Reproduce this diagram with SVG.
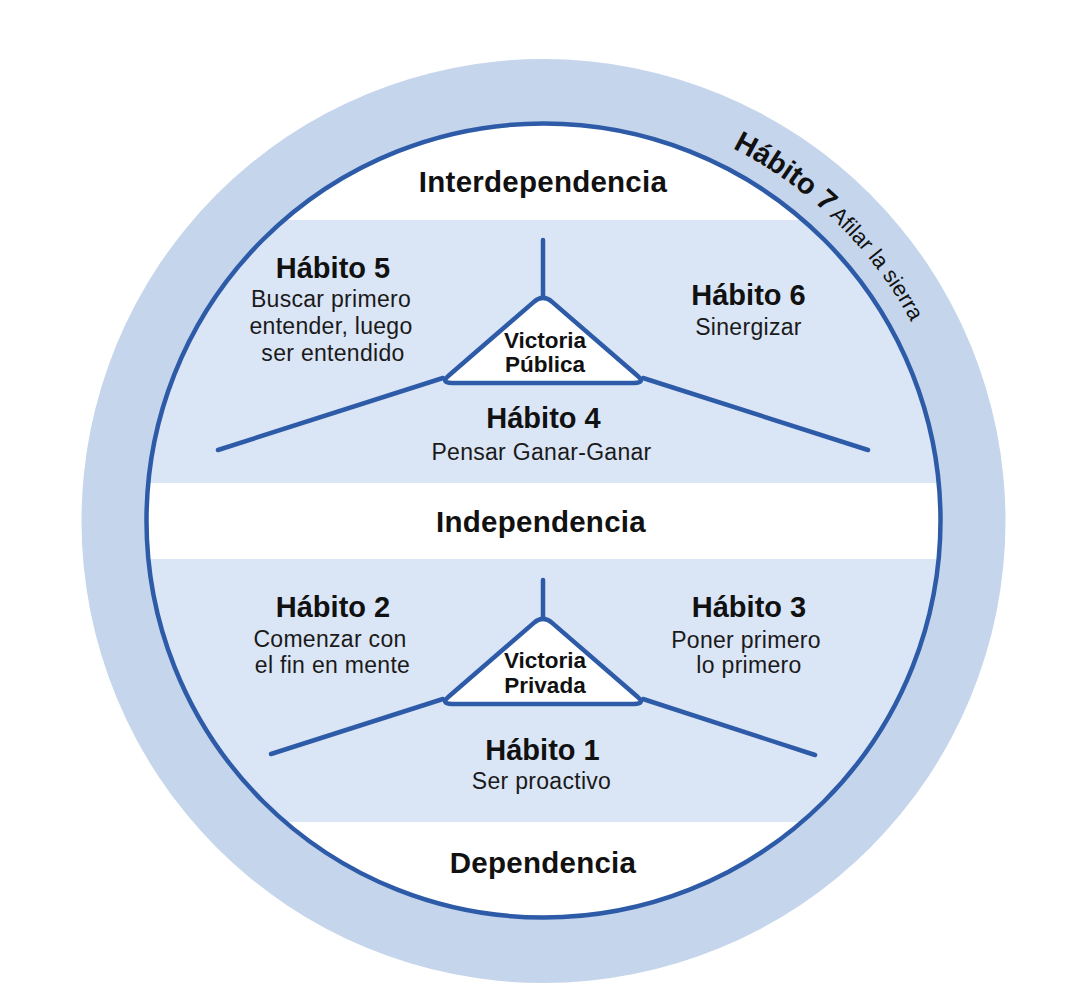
<svg xmlns="http://www.w3.org/2000/svg" width="1090" height="994" viewBox="0 0 1090 994">
<defs>
<clipPath id="inner"><circle cx="543.5" cy="520.5" r="396"/></clipPath>
<path id="tri" d="M533.9,301.9 Q543,294 552.1,301.9 L636.9,375.2 Q646,383 634,383 L452,383 Q440,383 449.1,375.2 Z"/>
<path id="arc" d="M543.5,103 A418,418 0 1 1 543.5,939 A418,418 0 1 1 543.5,103"/>
</defs>
<style>
.h{font-family:"Liberation Sans",Arial,sans-serif;font-weight:bold;fill:#111;text-anchor:middle}
.big{font-size:29.5px;letter-spacing:0.25px}
.hab{font-size:29px}
.vic{font-size:22.5px}
.t{font-family:"Liberation Sans",Arial,sans-serif;font-size:23px;letter-spacing:0.3px;fill:#1a1a1a;text-anchor:middle}
.ln{stroke:#2E5BA8;stroke-width:4.5;stroke-linecap:round;fill:none}
.tri{fill:#fff;stroke:#2E5BA8;stroke-width:4.5;stroke-linejoin:round}
</style>
<rect width="1090" height="994" fill="#fff"/>
<g id="ring">
<circle cx="543.5" cy="521" r="462" fill="#C4D5EC"/>
<circle cx="543.5" cy="520.5" r="397" fill="#fff"/>
</g>
<g id="bands" clip-path="url(#inner)">
<rect x="100" y="220" width="900" height="263" fill="#DAE5F6"/>
<rect x="100" y="559" width="900" height="263" fill="#DAE5F6"/>
</g>
<circle cx="543.5" cy="520.5" r="397" fill="none" stroke="#2E5BA8" stroke-width="4.5"/>
<g id="connectors">
<line class="ln" x1="543" y1="240" x2="543" y2="296"/>
<line class="ln" x1="443" y1="378" x2="218" y2="450"/>
<line class="ln" x1="643" y1="378" x2="868" y2="450"/>
<line class="ln" x1="543" y1="580" x2="543" y2="617"/>
<line class="ln" x1="443" y1="699" x2="271" y2="754"/>
<line class="ln" x1="643" y1="699" x2="815" y2="755"/>
</g>
<g id="habito7">
<text font-family="Liberation Sans,Arial,sans-serif" fill="#111"><textPath href="#arc" startOffset="196"><tspan font-weight="bold" font-size="29">Hábito 7</tspan><tspan font-size="22" dx="4">Afilar la sierra</tspan></textPath></text>
</g>
<g id="interdependencia"><text class="h big" x="543" y="192">Interdependencia</text></g>
<g id="independencia"><text class="h big" x="541" y="532">Independencia</text></g>
<g id="dependencia"><text class="h big" x="543" y="873">Dependencia</text></g>
<g id="victoria-publica">
<use href="#tri" class="tri"/>
<text class="h vic" x="545" y="348">Victoria</text>
<text class="h vic" x="545" y="372">Pública</text>
</g>
<g id="victoria-privada">
<use href="#tri" class="tri" transform="translate(0,321)"/>
<text class="h vic" x="545" y="668">Victoria</text>
<text class="h vic" x="545" y="693">Privada</text>
</g>
<g id="habito5">
<text class="h hab" x="333" y="278">Hábito 5</text>
<text class="t" x="331" y="307">Buscar primero</text>
<text class="t" x="331" y="334">entender, luego</text>
<text class="t" x="333" y="361">ser entendido</text>
</g>
<g id="habito6">
<text class="h hab" x="748.5" y="305">Hábito 6</text>
<text class="t" x="748.5" y="335">Sinergizar</text>
</g>
<g id="habito4">
<text class="h hab" x="543.5" y="428">Hábito 4</text>
<text class="t" x="541.5" y="460">Pensar Ganar-Ganar</text>
</g>
<g id="habito2">
<text class="h hab" x="333" y="617">Hábito 2</text>
<text class="t" x="330" y="647">Comenzar con</text>
<text class="t" x="332.5" y="673">el fin en mente</text>
</g>
<g id="habito3">
<text class="h hab" x="749" y="617">Hábito 3</text>
<text class="t" x="746" y="648">Poner primero</text>
<text class="t" x="749" y="673">lo primero</text>
</g>
<g id="habito1">
<text class="h hab" x="542.5" y="760">Hábito 1</text>
<text class="t" x="541.5" y="789">Ser proactivo</text>
</g>
</svg>
